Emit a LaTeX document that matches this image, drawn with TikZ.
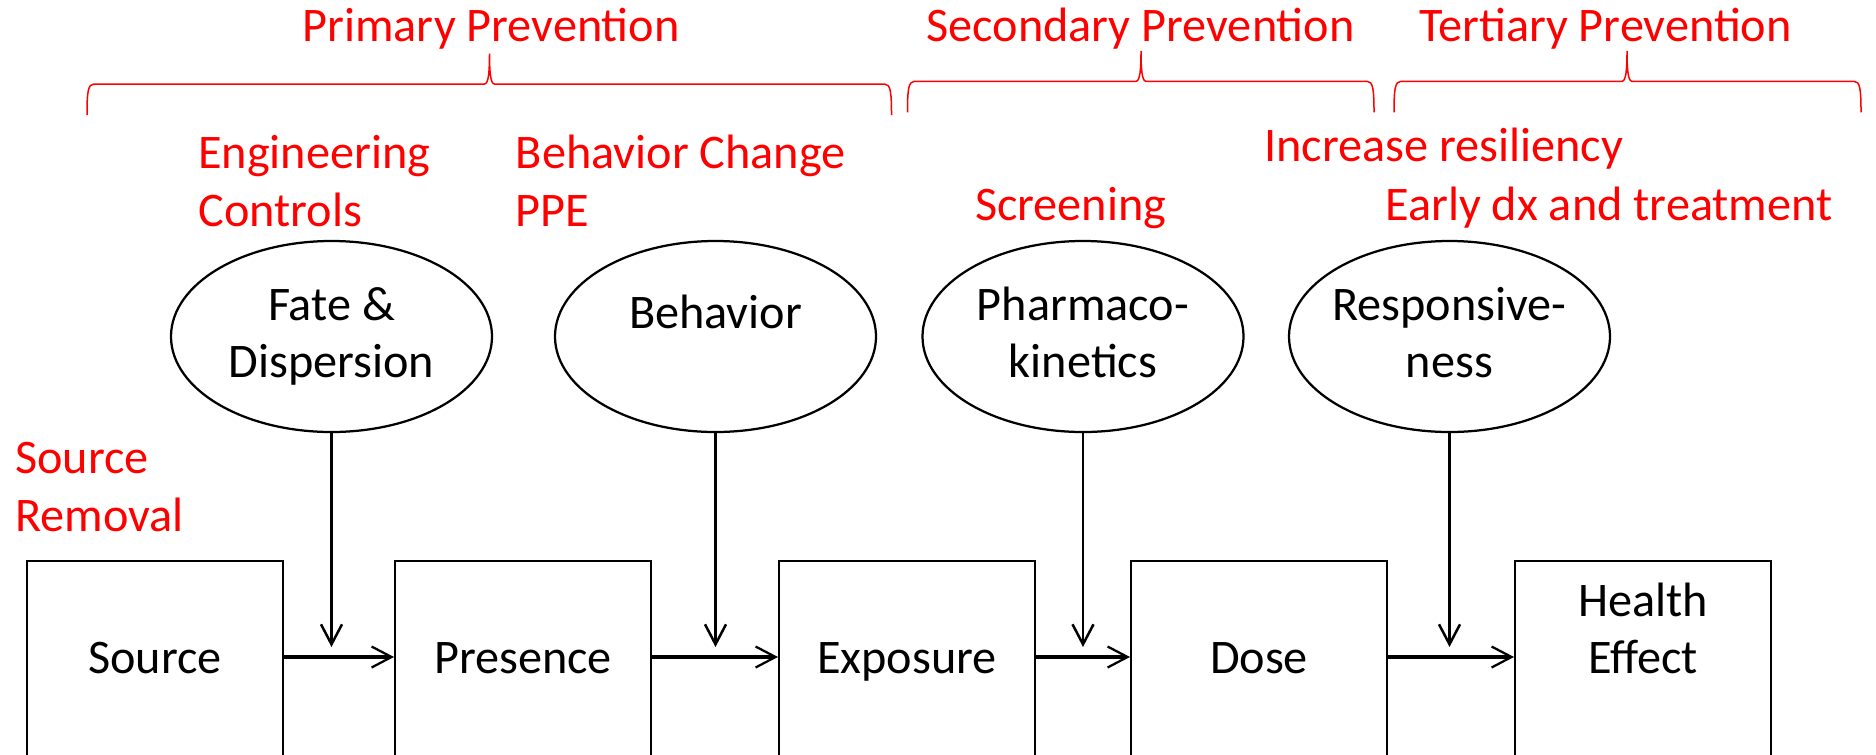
\documentclass[tikz,border=0pt]{standalone}
\usepackage{fontspec}
\setmainfont{Carlito}
\usepackage{xcolor}
\definecolor{cInk}{HTML}{000000}
\definecolor{cPrev}{HTML}{FF0000}
\usepackage{tikz}
\usetikzlibrary{arrows.meta,shapes.geometric,calc}
% strut: same height and depth for every line
\newcommand{\ls}{\rule[-0.24em]{0pt}{0.99em}}
\tikzset{
  node-font/.style={font=\fontsize{27.45pt}{32.4pt}\selectfont},
  node-stage/.style={node-font,draw=cInk,line width=0.4mm,rectangle,inner sep=0pt,
    minimum width=51.2mm,minimum height=40mm,align=center},
  node-factor/.style={node-font,draw=cInk,line width=0.45mm,ellipse,inner sep=0pt,
    inner xsep=-1.5mm,minimum width=64.2mm,minimum height=38.2mm,align=center},
  node-level/.style={node-font,text=cPrev,inner sep=0pt,anchor=base},
  node-prev/.style={font=\fontsize{27.45pt}{33pt}\selectfont,text=cPrev,inner sep=0pt,
    align=left,anchor=base west},
  brace-prev/.style={draw=cPrev,line width=0.3mm},
  arrow-flow/.style={-{Straight Barb[length=4mm,width=4.2mm,line width=0.45mm]},
    line width=0.8mm,draw=cInk},
  arrow-drop/.style={-{Straight Barb[length=4mm,width=4.2mm]},line width=0.5mm,draw=cInk},
}

\begin{document}
\begin{tikzpicture}[x=0.2mm,y=-0.2mm]
  \useasboundingbox (0,0) rectangle (1876,754);
  \clip (0,0) rectangle (1876,754);

  % causal chain
  \node[node-stage] (src) at (155,661) {Source\ls};
  \node[node-stage] (pres) at (523,661) {Presence\ls};
  \node[node-stage] (expo) at (907,661) {Exposure\ls};
  \node[node-stage] (dose) at (1259,661) {Dose\ls};
  \node[node-stage] (health) at (1643,661) {Health\ls\\Effect\ls\\\ls};

  % modifying factors
  \node[node-factor] (fate) at (331.5,336.5) {Fate \&\ls\\Dispersion\ls};
  \node[node-factor,text depth=10.6mm] (behav) at (715.5,336.5) {Behavior\ls};
  \node[node-factor] (pk) at (1083,336.5) {Pharmaco-\ls\\kinetics\ls};
  \node[node-factor] (resp) at (1449.5,336.5) {Responsive-\ls\\ness\ls};

  \foreach \a/\b in {src/pres, pres/expo, expo/dose, dose/health}
    \draw[arrow-flow] ([yshift=0.8mm]\a.east) -- ([yshift=0.8mm]\b.west);
  \foreach \fac/\stg in {fate/pres, behav/expo, pk/dose, resp/health}
    \draw[arrow-drop] (\fac) -- ($(\fac |- \stg.west)+(0,-14)$);

  % prevention levels
  \foreach \xl/\xt/\xr/\yb in {87/489.5/891.5/84, 907.5/1141/1374/81.3, 1394/1627/1861/81.3}
    \draw[brace-prev] (\xl,\yb+31) .. controls (\xl,\yb+8) and (\xl+1,\yb) .. (\xl+7,\yb)
      -- (\xt-5,\yb) .. controls (\xt-1,\yb) and (\xt,\yb-12) .. (\xt,\yb-30.5)
      .. controls (\xt,\yb-12) and (\xt+1,\yb) .. (\xt+5,\yb)
      -- (\xr-7,\yb) .. controls (\xr-1,\yb) and (\xr,\yb+8) .. (\xr,\yb+31);
  \node[node-level] (prim) at (491,41.7) {Primary Prevention};
  \node[node-level] (sec) at (1140.5,41.7) {Secondary Prevention};
  \node[node-level] (tert) at (1605.3,41.7) {Tertiary Prevention};

  % interventions (base = last line)
  \node[node-prev] (eng) at (198,226.7) {Engineering\\Controls};
  \node[node-prev] (behch) at (515.6,226.7) {Behavior Change\\PPE};
  \node[node-prev] (resil) at (1264,161.7) {Increase resiliency};
  \node[node-prev] (screen) at (974.7,220) {Screening};
  \node[node-prev] (early) at (1385,220) {Early dx and treatment};
  \node[node-prev] (remove) at (15,531) {Source\\Removal};
\end{tikzpicture}
\end{document}
